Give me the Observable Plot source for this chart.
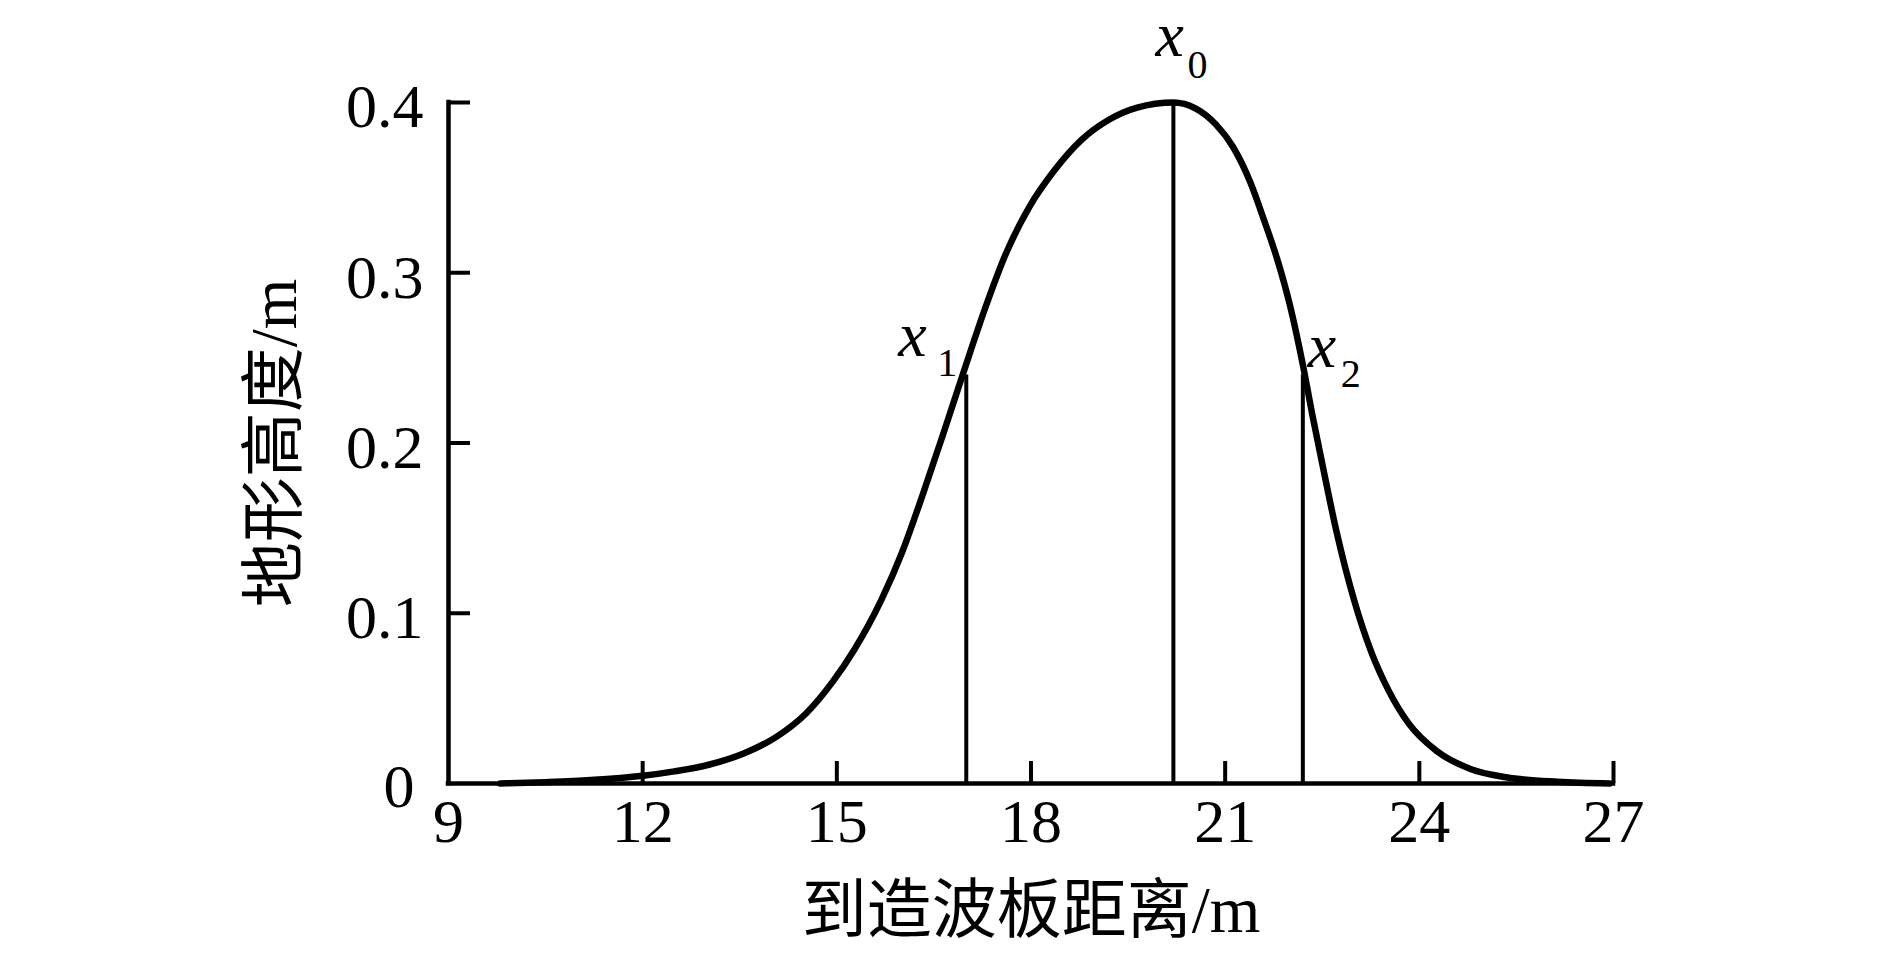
<!DOCTYPE html>
<html>
<head>
<meta charset="utf-8">
<script src="https://cdn.jsdelivr.net/npm/d3@7"></script>
<script src="https://cdn.jsdelivr.net/npm/@observablehq/plot@0.6"></script>
<style>
  html, body { margin: 0; padding: 0; background: #fff; }
  #chart svg { display: block; }
</style>
</head>
<body>
<div id="chart"></div>
<script>
// Profile of the terrain (distance to wave maker in m, height in m)
const distance = [9.8, 10.5, 11.2, 12.0, 12.49, 13.02, 13.56, 14.09, 14.52, 14.94, 15.26, 15.69, 16.01, 16.33, 16.65, 16.97, 17.29, 17.61, 17.98, 18.36, 18.78, 19.21, 19.64, 20.2, 20.54, 20.86, 21.12, 21.39, 21.6, 21.82, 22.0, 22.2, 22.35, 22.51, 22.72, 22.99, 23.26, 23.52, 23.84, 24.27, 24.8, 25.34, 26.14, 26.94];
const height   = [0.0, 0.0008, 0.002, 0.0045, 0.0071, 0.011, 0.0176, 0.028, 0.041, 0.060, 0.078, 0.108, 0.136, 0.170, 0.206, 0.243, 0.279, 0.311, 0.339, 0.360, 0.378, 0.390, 0.397, 0.400, 0.3966, 0.387, 0.374, 0.353, 0.331, 0.306, 0.281, 0.246, 0.216, 0.186, 0.148, 0.108, 0.077, 0.055, 0.035, 0.019, 0.0084, 0.0037, 0.001, 0.0];

// Marked positions x1, x0, x2
const markNames = ["x", "x", "x"];
const markSubs  = ["1", "0", "2"];
const markX     = [17.0, 20.2, 22.2];
const markY     = [0.24, 0.4, 0.24];

// Axis ticks
const xTicks = [9, 12, 15, 18, 21, 24, 27];
const yTicks = [0, 0.1, 0.2, 0.3, 0.4];

const xLabel = "到造波板距离/m";
const yLabel = "地形高度/m";

const profile = distance.map((d, i) => ({d, h: height[i]}));
const marks = markX.map((x, i) => ({x, y: markY[i], name: markNames[i], sub: markSubs[i]}));

const W = 1890, H = 956;
const mL = 448, mR = 277, mT = 102, mB = 173;
const frameW = W - mL - mR, frameH = H - mT - mB;
const tickLen = 22;
const serif = "'Liberation Serif', 'Times New Roman', serif";
const cjk = "'Liberation Serif', 'Noto Sans CJK SC', serif";

// label offsets (pixels) for each marker label: [x dx, x dy, sub dx, sub dy]
const lblOff = [[-68, -19, -29, 1], [-18, -47, 14, -25], [5, -8, 38, 12]];

const plot = Plot.plot({
  width: W, height: H,
  marginLeft: mL, marginRight: mR, marginTop: mT, marginBottom: mB,
  style: {fontFamily: serif, fontSize: "62px", color: "#000", background: "#fff"},
  x: {domain: [9, 27]},
  y: {domain: [0, 0.4]},
  marks: [
    // axis lines
    Plot.ruleY([0], {stroke: "#000", strokeWidth: 4.5, strokeLinecap: "square"}),
    Plot.ruleX([9], {stroke: "#000", strokeWidth: 4.5, strokeLinecap: "square"}),
    // inward ticks
    Plot.ruleX(xTicks.slice(1), {x: d => d, stroke: "#000", strokeWidth: 4, insetTop: frameH - tickLen}),
    Plot.ruleY(yTicks.slice(1), {y: d => d, stroke: "#000", strokeWidth: 4, insetRight: frameW - tickLen}),
    // tick labels
    Plot.axisX(xTicks, {tickSize: 0, tickPadding: 14, tickFormat: d => String(d), fontSize: 62, fontFamily: serif, label: null}),
    Plot.axisY(yTicks.slice(1), {tickSize: 0, tickPadding: 25, dy: 5, tickFormat: d => String(d), fontSize: 62, fontFamily: serif, label: null}),
    Plot.axisY([0], {tickSize: 0, tickPadding: 34, dy: 4, tickFormat: d => String(d), fontSize: 62, fontFamily: serif, label: null}),
    // marker verticals
    Plot.ruleX(marks, {x: "x", y1: 0, y2: "y", stroke: "#000", strokeWidth: 4}),
    // profile curve
    Plot.line(profile, {x: "d", y: "h", curve: "monotone-x", stroke: "#000", strokeWidth: 6.5}),
    // marker labels
    ...marks.map((m, i) => Plot.text([m], {x: "x", y: "y", text: "name", fontStyle: "italic", fontSize: 64, fontFamily: serif, textAnchor: "start", lineAnchor: "bottom", dx: lblOff[i][0], dy: lblOff[i][1]})),
    ...marks.map((m, i) => Plot.text([m], {x: "x", y: "y", text: "sub", fontSize: 40, fontFamily: serif, textAnchor: "start", lineAnchor: "bottom", dx: lblOff[i][2], dy: lblOff[i][3]})),
    // axis titles
    Plot.text([xLabel], {frameAnchor: "bottom", text: d => d, fontSize: 65, fontFamily: cjk, textAnchor: "middle", lineAnchor: "middle", dy: 128}),
    Plot.text([yLabel], {frameAnchor: "left", text: d => d, fontSize: 65, fontFamily: cjk, textAnchor: "middle", lineAnchor: "middle", rotate: -90, dx: -173})
  ]
});

document.getElementById("chart").appendChild(plot);
</script>
</body>
</html>
